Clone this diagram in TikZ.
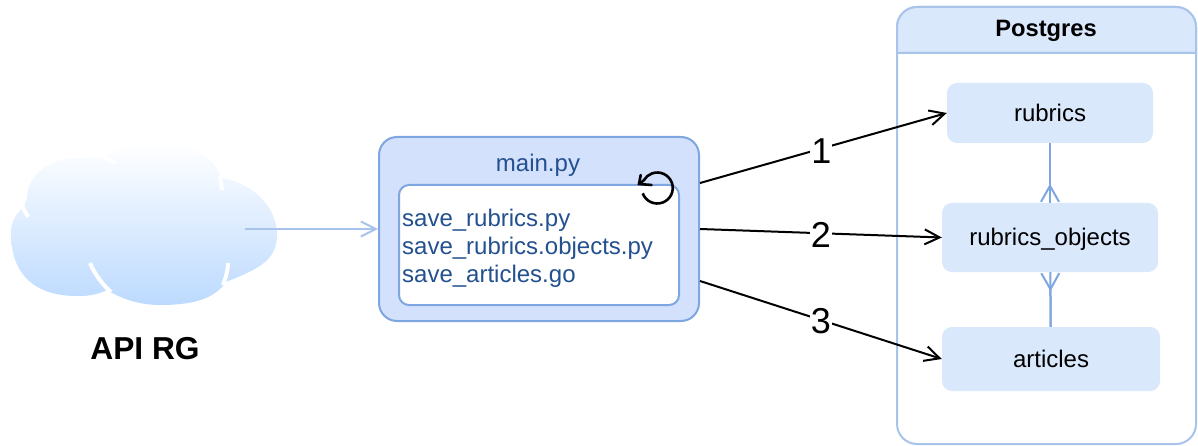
\documentclass[tikz,border=0pt]{standalone}
\usepackage{fontspec}
\setmainfont{Liberation Sans}
\usetikzlibrary{arrows.meta}
\definecolor{boxfill}{HTML}{DAE8FC}
\definecolor{mainfill}{HTML}{D4E1FC}
\definecolor{mainline}{HTML}{7EA6E0}
\definecolor{paleline}{HTML}{A9C4EB}
\definecolor{scripttext}{HTML}{23508F}
\definecolor{cloudblue}{HTML}{BCDAFF}
\tikzset{
	tablebox/.style={fill=boxfill, rounded corners=10pt, inner sep=0pt, text height=17pt, text depth=0pt, font=\fontsize{24}{28}\selectfont},
	scriptbox/.style={draw=mainline, line width=2pt, rounded corners=10pt, inner sep=0pt},
	flow/.style={line width=2pt, -{Straight Barb[length=15pt,width=15pt,line width=2pt]}},
	flowlabel/.style={midway, fill=white, inner sep=1pt, font=\fontsize{36}{40}\selectfont},
	crowline/.style={draw=mainline, line width=2pt},
	crowfoot/.style={crowline, -{Straight Barb[reversed,length=16pt,width=18pt,line width=2pt]}},
	cloudnotch/.style={white, line width=4pt}
}
\begin{document}
\begin{tikzpicture}[x=1pt,y=-1pt]
	\useasboundingbox (0,0) rectangle (1198,446);

	% cloud
	\shade[top color=white, bottom color=cloudblue]
		(11,233) .. controls (11,222) and (16,213) .. (24,207)
		-- (27,198)
		.. controls (27,175) and (50,158) .. (77,158)
		.. controls (88,158) and (96,158) .. (105,157)
		.. controls (118,146) and (138,143) .. (157,143)
		.. controls (195,143) and (214,158) .. (221,178)
		.. controls (250,182) and (277,205) .. (277,235)
		.. controls (277,262) and (255,270) .. (226,282)
		.. controls (215,298) and (195,305) .. (160,305)
		.. controls (138,305) and (120,298) .. (107,290)
		.. controls (97,295) and (88,296) .. (77,296)
		.. controls (35,296) and (11,275) .. (11,233) -- cycle;
	\draw[cloudnotch] (22,206) -- (28,217);
	\draw[cloudnotch] (103,157) -- (116,163);
	\draw[cloudnotch] (220,176) -- (222,190);
	\draw[cloudnotch] (90,263) .. controls (95,275) and (103,285) .. (111,292);
	\draw[cloudnotch] (228,263) .. controls (228,270) and (226,277) .. (223,285);
	\node[font=\fontsize{31.7}{34}\selectfont\bfseries] (apirg) at (145,349) {API RG};

	% script runner
	\node[draw=mainline, fill=mainfill, line width=2pt, rounded corners=18pt, minimum width=320pt, minimum height=184pt] (main) at (539,229) {};
	\node[text=scripttext, font=\fontsize{24}{28}\selectfont] (mainname) at (538,165) {main.py};
	\node[scriptbox, fill=white, minimum width=280pt, minimum height=120pt] (scripts) at (539,245) {};
	\node[text=scripttext, inner sep=0pt, align=left, anchor=west, font=\fontsize{24}{28}\selectfont] (scriptlist) at (402,248) {save\_rubrics.py\\save\_rubrics.objects.py\\save\_articles.go};
	\draw[line width=2.6pt] (642.7,193.3) arc[start angle=200, end angle=510, radius=15.5pt] -- (640,183.5);
	\draw[line width=2.6pt, line cap=round] (640.7,175) -- (639,184) -- (651.5,185);

	% database
	\node[draw=paleline, fill=white, line width=2pt, rounded corners=20pt, minimum width=299pt, minimum height=437pt] (postgres) at (1046.5,225.5) {};
	\draw[draw=paleline, fill=boxfill, line width=2pt] (897,53) [rounded corners=20pt] -- (897,7) -- (1196,7) [sharp corners] -- (1196,53) -- cycle;
	\node[font=\fontsize{23.7}{28}\selectfont\bfseries] (pgname) at (1046,31) {Postgres};
	\node[tablebox, minimum width=206pt, minimum height=60pt] (rubrics) at (1050,113) {rubrics};
	\node[tablebox, minimum width=216pt, minimum height=69pt] (objects) at (1050,237.5) {rubrics\_objects};
	\node[tablebox, minimum width=218pt, minimum height=64pt] (articles) at (1051,359) {articles};
	\draw[crowline] (rubrics) -- (objects);
	\draw[crowline] (articles) -- (objects);
	\draw[crowfoot] (rubrics) -- (objects);
	\draw[crowfoot] (articles) -- (objects);

	% connectors
	\coordinate (cloudout) at (245,229);
	\draw[draw=paleline, line width=2pt, -{Straight Barb[length=15pt,width=15pt,line width=2pt]}] (cloudout) -- (main.west);
	\draw[flow] ([yshift=46pt]main.east) -- node[flowlabel, xshift=-2pt, yshift=-3pt] {1} (rubrics.west);
	\draw[flow] (main.east) -- node[flowlabel, yshift=-2pt] {2} (objects.west);
	\draw[flow] ([yshift=-52pt]main.east) -- node[flowlabel, yshift=-1pt] {3} (articles.west);
\end{tikzpicture}
\end{document}
